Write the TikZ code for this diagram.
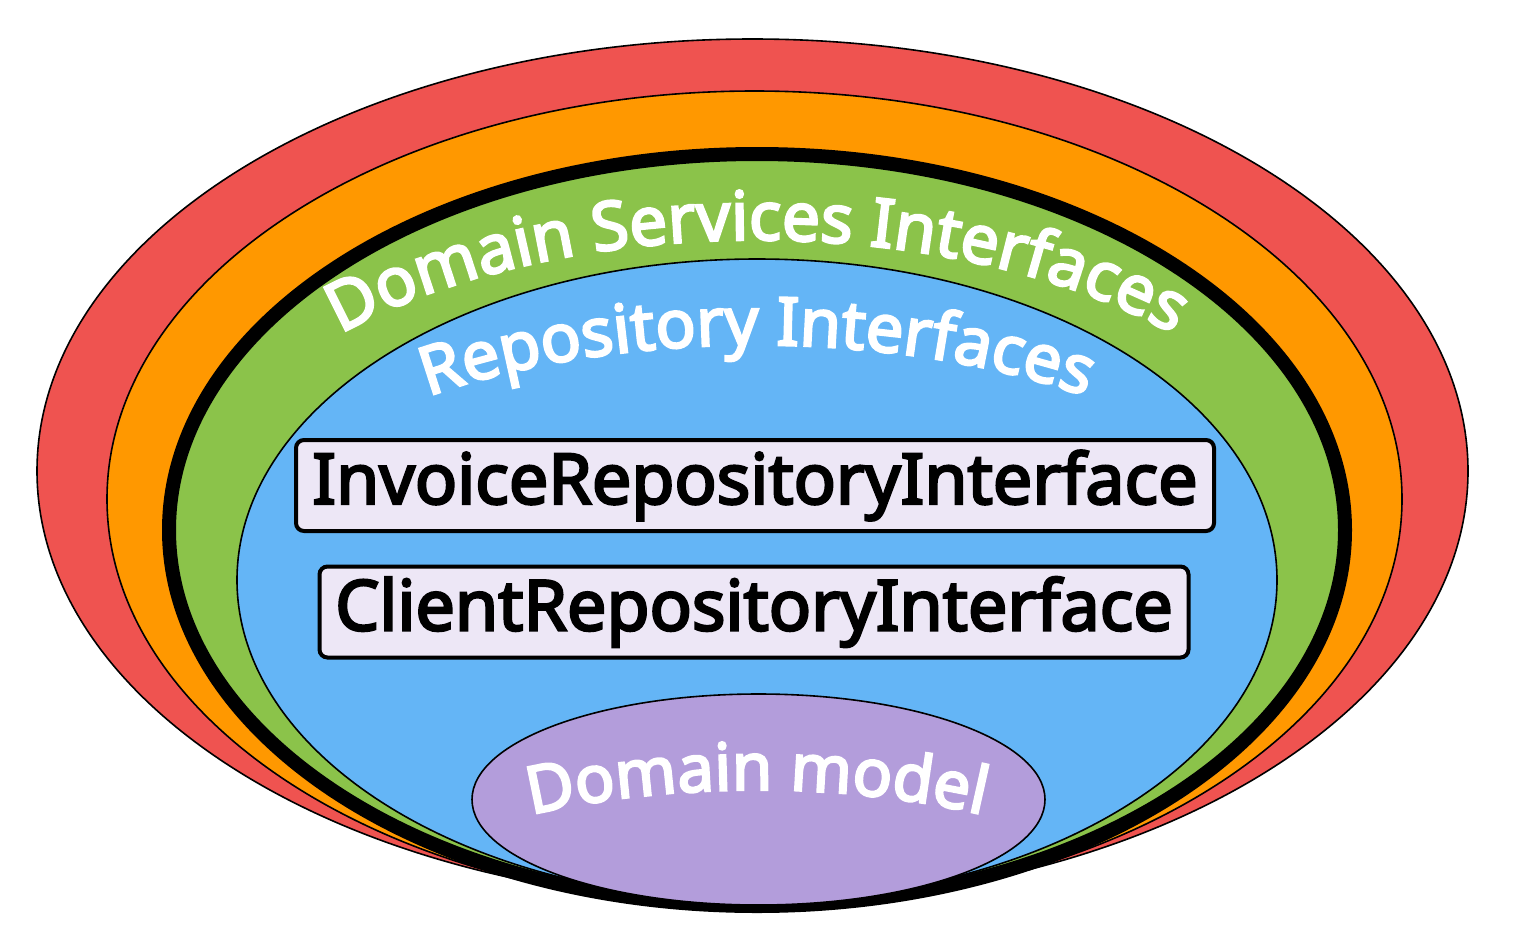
\documentclass[tikz,border=0pt]{standalone}
\usepackage{fontspec}
\setmainfont{Noto Sans}[FakeBold=3.5]
\usepackage{tikz}
\usetikzlibrary{decorations.text}
\definecolor{layerred}{HTML}{EF5350}
\definecolor{layerorange}{HTML}{FF9800}
\definecolor{layergreen}{HTML}{8BC34A}
\definecolor{layerblue}{HTML}{64B5F6}
\definecolor{layerpurple}{HTML}{B39DDB}
\definecolor{ifacefill}{HTML}{EDE7F6}

\begin{document}
\begin{tikzpicture}[x=0.5pt, y=-0.5pt,
  layer/.style={draw=black, line width=0.8pt},
  iface/.style={draw=black, line width=2pt, rounded corners=4pt, fill=ifacefill, inner sep=0pt,
    minimum height=45.5pt, font=\fontsize{35}{40}\selectfont\bfseries},
  ringtext/.style 2 args={decorate, decoration={text along path, text align=center,
    text={|\fontsize{#1}{40}\selectfont\bfseries\color{white}|#2}}}]
\useasboundingbox (0,0) rectangle (1526,938);
\coordinate (outer) at (752.5,471);
\coordinate (middle) at (754.5,499);
\coordinate (services) at (757,530);
\coordinate (repos) at (757,580);
\coordinate (model) at (758.5,799.5);
\draw[layer, fill=layerred] (outer) ellipse[x radius=715.5, y radius=432];
\draw[layer, fill=layerorange] (middle) ellipse[x radius=647.5, y radius=408];
\draw[layer, fill=layergreen, line width=7pt] (services) ellipse[x radius=588, y radius=376];
\draw[layer, fill=layerblue] (repos) ellipse[x radius=520, y radius=321];
\draw[layer, fill=layerpurple] (model) ellipse[x radius=286.5, y radius=105.5];
\node[iface, minimum width=459pt] (invoice) at (755,485.5) {InvoiceRepositoryInterface};
\node[iface, minimum width=434.5pt] (client) at (754,612) {ClientRepositoryInterface};
\path[ringtext={33.8}{Domain Services Interfaces}] ([shift={(190:565 and 290)}]services) arc[start angle=190, end angle=350, x radius=565, y radius=290];
\path[ringtext={33.4}{Repository Interfaces}] ([shift={(190:527 and 235)}]repos) arc[start angle=190, end angle=350, x radius=527, y radius=235];
\path[ringtext={32.8}{Domain model}] ([shift={(200:480 and 210)}]757,1000) arc[start angle=200, end angle=340, x radius=480, y radius=210];
\end{tikzpicture}
\end{document}
